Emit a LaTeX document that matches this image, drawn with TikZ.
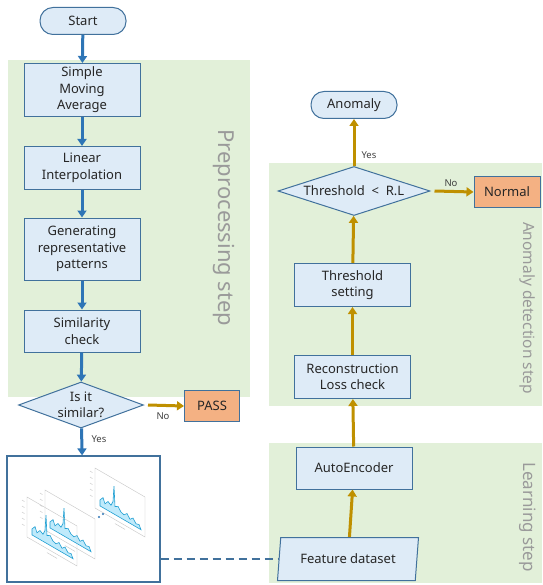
\documentclass[tikz,border=0pt]{standalone}
\usepackage{fontspec}
\setmainfont{Noto Sans}
\usetikzlibrary{shapes.geometric,arrows.meta}

\definecolor{boxblue}{HTML}{DEEBF7}
\definecolor{edgeblue}{HTML}{41719C}
\definecolor{stepgreen}{HTML}{E2F0D9}
\definecolor{passorange}{HTML}{F4B183}
\definecolor{flowblue}{HTML}{2E75B6}
\definecolor{flowgold}{HTML}{BF9000}
\definecolor{sidegray}{HTML}{9A9A9A}

\tikzset{
  procbox/.style={draw=edgeblue, fill=boxblue, line width=1pt, align=center,
    minimum width=116pt, inner sep=2pt, text=black!85,
    font=\fontsize{13}{16.5}\selectfont},
  termbox/.style={procbox, rounded corners=13pt, minimum width=86pt, minimum height=27pt},
  endbox/.style={procbox, fill=passorange, minimum height=31pt},
  decbox/.style={procbox, shape=diamond, inner sep=-7pt},
  databox/.style={procbox, shape=trapezium, trapezium left angle=77,
    trapezium right angle=103, trapezium stretches body},
  stepzone/.style={fill=stepgreen},
  steplabel/.style={rotate=-90, text=sidegray},
  blueflow/.style={draw=flowblue, line width=3pt, -{Triangle[length=7pt,width=9pt]}},
  goldflow/.style={draw=flowgold, line width=3pt, -{Triangle[length=7pt,width=9pt]}},
  flowtag/.style={font=\fontsize{9.5}{10}\selectfont, text=black!75}
}

\begin{document}
\begin{tikzpicture}[x=1pt, y=-1pt]
  \useasboundingbox (0,0) rectangle (542,585);

  % step zones
  \fill[stepzone] (8,60) rectangle (250,397);
  \fill[stepzone] (269,163) rectangle (542,406);
  \fill[stepzone] (269,443) rectangle (542,583);
  \node[steplabel, font=\fontsize{22}{24}\selectfont] (prelbl) at (224,228) {Preprocessing step};
  \node[steplabel, font=\fontsize{15.5}{17}\selectfont] (detlbl) at (528,308) {Anomaly detection step};
  \node[steplabel, font=\fontsize{17}{19}\selectfont] (lrnlbl) at (528,517) {Learning step};

  % preprocessing
  \node[termbox] (start) at (83,21) {Start};
  \node[procbox, minimum height=53pt] (sma) at (82,90) {Simple\\Moving\\Average};
  \node[procbox, minimum height=43pt] (interp) at (82,168) {Linear\\Interpolation};
  \node[procbox, minimum height=62pt] (repr) at (82,249) {Generating\\representative\\patterns};
  \node[procbox, minimum height=42pt] (simchk) at (82,331) {Similarity\\check};
  \node[decbox, minimum width=125pt, minimum height=46pt, aspect=2.7] (similar) at (81,405) {Is it\\similar?};
  \node[endbox, minimum width=55pt] (pass) at (212,406) {PASS};

  \draw[blueflow] (start) -- (sma);
  \draw[blueflow] (sma) -- (interp);
  \draw[blueflow] (interp) -- (repr);
  \draw[blueflow] (repr) -- (simchk);
  \draw[blueflow] (simchk) -- (similar);
  \draw[goldflow] (similar.east) ++(4,0) coordinate (nostart) -- (pass.west);
  \node[flowtag] (nolbl) at (163,416) {No};

  % pattern thumbnails
  \node[draw=edgeblue, fill=white, line width=1.2pt, minimum width=153pt,
    minimum height=126pt, inner sep=0pt] (thumbs) at (83.5,519) {};
  \foreach \px/\py in {95/468, 45/490, 27/497} {
    \begin{scope}[shift={(\px,\py)}, yslant=-0.58]
      \draw[gray!45, line width=0.4pt] (0,0) rectangle (50,40);
      \foreach \ty in {6,12,18,24,30}
        \draw[gray!40, line width=0.5pt] (-5,\ty) -- (-2.5,\ty);
      \filldraw[fill=cyan!25, draw=cyan!70!teal, line width=0.6pt]
        (5,35) -- plot coordinates {(5,29) (8,25) (10,30) (13,26) (16,28) (18,23) (19,7)
          (20,27) (23,25) (26,29) (29,30) (32,27) (35,31) (38,28) (41,32) (44,31) (46,35)}
        -- cycle;
      \draw[gray!40, line width=0.5pt] (20,44) -- (30,44);
    \end{scope}
  }
  \fill[flowblue] (99,517) circle (1.1pt);
  \fill[flowblue] (103,514) circle (1.1pt);
  \draw[blueflow] (similar) -- (thumbs);
  \node[flowtag, anchor=west] (yeslbl) at (88,439) {Yes};

  % learning and detection
  \node[databox, minimum width=141pt, minimum height=43pt] (feat) at (348,559) {Feature dataset};
  \node[procbox, minimum height=42pt] (ae) at (354,468) {AutoEncoder};
  \node[procbox, minimum height=43pt] (recon) at (352.5,377) {Reconstruction\\Loss check};
  \node[procbox, minimum height=43pt] (thresh) at (352.5,285) {Threshold\\setting};
  \node[decbox, minimum width=152pt, minimum height=49pt, aspect=3.1] (cmp) at (354,191) {Threshold \ < \ R.L};
  \node[endbox, minimum width=66pt, minimum height=30pt] (normal) at (507,192) {Normal};
  \node[termbox, minimum width=86pt] (anomaly) at (354,105) {Anomaly};

  \draw[edgeblue, line width=1.2pt, dash pattern=on 8pt off 5pt] (thumbs.east |- feat.west) -- (feat.west);
  \draw[goldflow] (feat) -- (ae);
  \draw[goldflow] (ae) -- (recon);
  \draw[goldflow] (recon) -- (thresh);
  \draw[goldflow] (thresh) -- (cmp);
  \draw[goldflow] (cmp) -- (anomaly);
  \draw[goldflow] (cmp.east) ++(4,0) coordinate (nostart2) -- (normal.west);
  \node[flowtag, anchor=west] (yeslbl2) at (358,155) {Yes};
  \node[flowtag] (nolbl2) at (451,183) {No};
\end{tikzpicture}
\end{document}
